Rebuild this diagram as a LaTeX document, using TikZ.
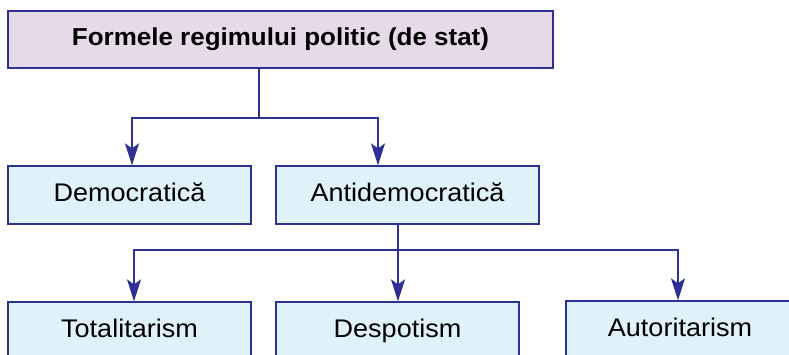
\documentclass[tikz,border=0pt]{standalone}
\usepackage{fontspec}
\setmainfont{Liberation Sans}[FakeStretch=1.06]
\usetikzlibrary{positioning, arrows.meta}
\definecolor{framecol}{RGB}{46,49,146}
\definecolor{topfill}{RGB}{230,218,232}
\definecolor{boxfill}{RGB}{223,242,250}
\tikzset{
    box/.style={draw=framecol, line width=1.3pt, fill=boxfill, inner sep=0pt,
        minimum height=58pt, text height=18pt, text depth=5pt,
        font=\fontsize{25.5}{28}\selectfont},
    link/.style={draw=framecol, line width=1.2pt},
    arr/.style={link, -{Stealth[length=22pt, width=14pt, inset=5pt]}}
}

\begin{document}
\begin{tikzpicture}[x=1pt, y=-1pt]
            \useasboundingbox (0,0) rectangle (789,355);

            \node [box, fill=topfill, minimum width=545pt, minimum height=57pt,
                font=\fontsize{24.5}{28}\selectfont\bfseries] (forme) at (280.5, 39.5) {Formele regimului politic (de stat)};
            \node [box, minimum width=243pt] (dem) at (129.5, 195) {Democratică};
            \node [box, minimum width=263pt] (antidem) at (407.5, 195) {Antidemocratică};
            \node [box, minimum width=243pt] (total) at (129.5, 331) {Totalitarism};
            \node [box, minimum width=243pt] (despot) at (397.5, 331) {Despotism};
            \node [box, minimum width=228pt] (autor) at (680, 330) {Autoritarism};

            \coordinate (j1) at (259, 118);
            \coordinate (j2) at (398, 250);

            \draw [link] (forme.south -| j1) -- (j1);
            \draw [arr] (j1) -| ([xshift=2.5pt]dem.north);
            \draw [arr] (j1) -| ([xshift=-29.5pt]antidem.north);

            \draw [arr] (antidem.south -| j2) -- (despot.north -| j2);
            \draw [arr] (j2) -| ([xshift=4.5pt]total.north);
            \draw [arr] (j2) -| ([xshift=-2pt]autor.north);
        \end{tikzpicture}
\end{document}
